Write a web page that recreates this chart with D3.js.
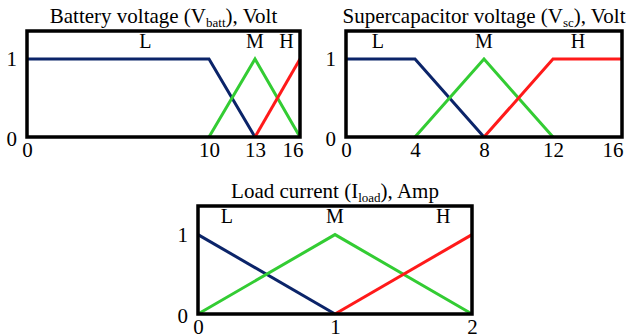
<!DOCTYPE html>
<html>
<head>
<meta charset="utf-8">
<script src="https://d3js.org/d3.v7.min.js"></script>
<style>
  body { margin: 0; background: #fff; }
  svg text { font-family: "Liberation Serif", "Times New Roman", serif; fill: #000; }
</style>
</head>
<body>
<div id="chart"></div>
<script>
// membership functions, [x, mu]
var battL = [[0,1],[10,1],[13,0]],
    battM = [[10,0],[13,1],[16,0]],
    battH = [[13,0],[16,1]];
var scL = [[0,1],[4,1],[8,0]],
    scM = [[4,0],[8,1],[12,0]],
    scH = [[8,0],[12,1],[16,1]];
var loadL = [[0,1],[1,0]],
    loadM = [[0,0],[1,1],[2,0]],
    loadH = [[1,0],[2,1]];

var battTicks = [0,10,13,16],
    scTicks = [0,4,8,12,16],
    loadTicks = [0,1,2];
var yTicks = [0,1];
var setNames = ["L","M","H"];
// where the set names sit (x in data units)
var battNamePos = [6.5, 13, 15.1],
    scNamePos = [1.85, 8, 13.45],
    loadNamePos = [0.21, 1, 1.79];

var colors = {L: "#0b2469", M: "#33cc33", H: "#ff1a1a"};

var svg = d3.select("#chart").append("svg")
    .attr("width", 631).attr("height", 336)
    .attr("font-family", "Liberation Serif, serif");

function panel(o) {
  var g = svg.append("g").attr("transform", "translate(" + o.left + "," + o.top + ")");
  var w = o.width, h = o.height;

  // the battery axis in the original is not evenly spaced, so allow breakpoints
  var x = d3.scaleLinear().domain(o.domain).range(o.range || [0, w]);
  var y = d3.scaleLinear().domain([0, 1.36]).range([h, 0]);

  var line = d3.line().x(function(d){ return x(d[0]); }).y(function(d){ return y(d[1]); });

  // x tick labels
  var ax = g.append("g").attr("transform", "translate(0," + h + ")")
    .call(d3.axisBottom(x).tickValues(o.ticks).tickSize(0).tickPadding(5).tickFormat(d3.format("d")));
  ax.attr("font-family", null);
  ax.select(".domain").remove();
  ax.selectAll(".tick text").attr("font-size", 21);
  if (o.lastDx != null) {
    ax.selectAll(".tick text").filter(function(d){ return d === o.ticks[o.ticks.length - 1]; })
      .attr("text-anchor", "end").attr("dx", o.lastDx);
  }

  var ay = g.append("g")
    .call(d3.axisLeft(y).tickValues(yTicks).tickSize(0).tickPadding(10).tickFormat(d3.format("d")));
  ay.attr("font-family", null);
  ay.select(".domain").remove();
  ay.selectAll(".tick text").attr("font-size", 21)
    .attr("dy", function(d){ return d === 0 ? "0.4em" : "0.32em"; });

  // membership lines
  o.sets.forEach(function(s, i) {
    g.append("path").datum(s)
      .attr("d", line)
      .attr("fill", "none")
      .attr("stroke", colors[setNames[i]])
      .attr("stroke-width", 3);
  });

  // frame
  g.append("rect").attr("x", 0).attr("y", 0).attr("width", w).attr("height", h)
    .attr("fill", "none").attr("stroke", "#000").attr("stroke-width", 3.5);

  // set names
  setNames.forEach(function(n, i) {
    g.append("text").attr("x", x(o.namePos[i])).attr("y", y(1.14))
      .attr("text-anchor", "middle").attr("font-size", 20).text(n);
  });

  // title
  var t = g.append("text").attr("x", w / 2).attr("y", -8)
    .attr("text-anchor", "middle").attr("font-size", 21);
  t.append("tspan").text(o.title[0]);
  t.append("tspan").attr("font-size", 13).attr("dy", 4).text(o.title[1]);
  t.append("tspan").attr("dy", -4).text(o.title[2]);
}

panel({left: 27, top: 31, width: 273, height: 106,
       domain: [0,10,13,16], range: [0,182,228,273], ticks: battTicks, lastDx: 3,
       sets: [battL, battM, battH], namePos: battNamePos,
       title: ["Battery voltage (V", "batt", "), Volt"]});
panel({left: 346, top: 31, width: 276, height: 106, domain: [0,16], ticks: scTicks, lastDx: 1,
       sets: [scL, scM, scH], namePos: scNamePos,
       title: ["Supercapacitor voltage (V", "sc", "), Volt"]});
panel({left: 198, top: 206, width: 274, height: 108, domain: [0,2], ticks: loadTicks,
       sets: [loadL, loadM, loadH], namePos: loadNamePos,
       title: ["Load current (I", "load", "), Amp"]});
</script>
</body>
</html>
